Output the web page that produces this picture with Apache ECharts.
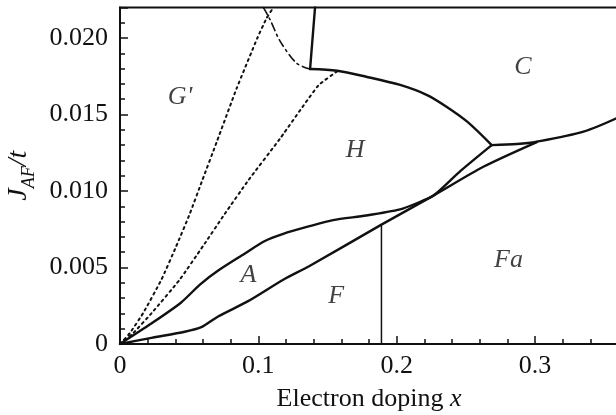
<!DOCTYPE html>
<html>
<head>
<meta charset="utf-8">
<script src="https://cdn.jsdelivr.net/npm/echarts@6/dist/echarts.min.js"></script>
<style>
  html, body { margin: 0; padding: 0; background: #fff; }
  #chart { width: 616px; height: 415px; }
</style>
</head>
<body>
<div id="chart"></div>
<script>
// phase boundaries, [x, J_AF/t] pairs
const dottedSteep = [[0, 0], [0.007, 0.0007], [0.0166, 0.002], [0.0299, 0.0042], [0.0407, 0.0064], [0.0504, 0.0085], [0.0595, 0.0107], [0.0699, 0.0132], [0.0843, 0.0167], [0.0993, 0.0200], [0.106, 0.0213], [0.1109, 0.022]];
const dottedShallow = [[0, 0], [0.0094, 0.0007], [0.0227, 0.002], [0.0431, 0.0042], [0.06, 0.0064], [0.0757, 0.0085], [0.0928, 0.0107], [0.1155, 0.0134], [0.1434, 0.0169], [0.1567, 0.0178]];
const dashDot = [[0.1036, 0.022], [0.1085, 0.0212], [0.1157, 0.0198], [0.1277, 0.01835], [0.1374, 0.01797]];
const hcVertical = [[0.1374, 0.01797], [0.141, 0.022]];
const hcBoundary = [[0.1374, 0.01797], [0.157, 0.01786], [0.178, 0.01747], [0.2025, 0.01693], [0.222, 0.01627], [0.236, 0.01551], [0.251, 0.01453], [0.2687, 0.0130]];
const cBoundary = [[0.2687, 0.0130], [0.287, 0.01307], [0.3013, 0.01322], [0.335, 0.01388], [0.36, 0.0148]];
const aUpper = [[0, 0], [0.022, 0.0013], [0.044, 0.0027], [0.058, 0.0039], [0.071, 0.0048], [0.09, 0.0059], [0.104, 0.0067], [0.118, 0.0072], [0.137, 0.0077], [0.154, 0.0081], [0.178, 0.0084], [0.2025, 0.0088], [0.2145, 0.0092], [0.2266, 0.0097], [0.246, 0.0113], [0.2687, 0.0130]];
const fLine = [[0, 0], [0.0227, 0.0004], [0.0468, 0.0008], [0.0588, 0.0011], [0.0709, 0.0018], [0.0926, 0.0028], [0.118, 0.0042], [0.137, 0.0051], [0.189, 0.0078], [0.2266, 0.0097], [0.263, 0.0116], [0.3013, 0.0132]];
const faVertical = [[0.189, 0], [0.189, 0.0078]];

// region names
const regionNames = ["G'", "H", "C", "A", "F", "Fa"];
const regionPos = [[0.0434, 0.0161], [0.17, 0.0127], [0.2912, 0.0181], [0.0928, 0.0045], [0.1562, 0.0031], [0.2808, 0.0055]];

const serif = 'Liberation Serif';
const ink = '#111';

let chart = echarts.init(document.getElementById('chart'));

function curve(data, width, type, smooth) {
    return {
        type: 'line',
        data: data,
        showSymbol: false,
        smooth: smooth,
        silent: true,
        lineStyle: { color: ink, width: width, type: type, cap: 'round' }
    };
}

let option = {
    backgroundColor: '#fff',
    animation: false,
    grid: {
        left: 120, right: -2, top: 7.4, bottom: 71,
        outerBoundsMode: 'none',
        containLabel: false,
        show: true, borderColor: ink, borderWidth: 2
    },
    xAxis: {
        type: 'value',
        min: 0, max: 0.36, interval: 0.1,
        splitLine: { show: false },
        axisLine: { lineStyle: { color: ink, width: 2 } },
        axisTick: { inside: true, length: 8, lineStyle: { color: ink, width: 1.5 } },
        minorTick: { show: true, splitNumber: 5, length: 5, lineStyle: { color: ink, width: 1.5 } },
        axisLabel: {
            margin: 9, color: ink, fontFamily: serif, fontSize: 26,
            showMaxLabel: false,
            formatter: v => v === 0 ? '0' : v.toFixed(1)
        },
        name: '{n|Electron doping }{i|x}',
        nameLocation: 'middle',
        nameGap: 42,
        nameTextStyle: {
            rich: {
                n: { fontFamily: serif, fontSize: 26, color: ink },
                i: { fontFamily: serif, fontSize: 26, color: ink, fontStyle: 'italic' }
            }
        }
    },
    yAxis: {
        type: 'value',
        min: 0, max: 0.022, interval: 0.005,
        splitLine: { show: false },
        axisLine: { lineStyle: { color: ink, width: 2 } },
        axisTick: { inside: true, length: 8, lineStyle: { color: ink, width: 1.5 } },
        minorTick: { show: true, splitNumber: 5, length: 5, lineStyle: { color: ink, width: 1.5 } },
        axisLabel: {
            margin: 12, color: ink, fontFamily: serif, fontSize: 26,
            showMaxLabel: false,
            formatter: v => v === 0 ? '0' : v.toFixed(3)
        },
        name: '{j|J}{s|AF}{j|/t}',
        nameLocation: 'middle',
        nameGap: 85,
        nameTextStyle: {
            rich: {
                j: { fontFamily: serif, fontSize: 28, color: ink, fontStyle: 'italic', lineHeight: 32 },
                s: { fontFamily: serif, fontSize: 18, color: ink, fontStyle: 'italic', verticalAlign: 'bottom', lineHeight: 18, padding: [0, 0, -4, 0] }
            }
        }
    },
    series: [
        curve(dottedSteep, 2, [2, 4], 0.15),
        curve(dottedShallow, 2, [2, 4], 0.15),
        curve(dashDot, 1.6, [8, 4, 2, 4], 0.3),
        curve(hcVertical, 2.4, 'solid', false),
        curve(hcBoundary, 2.4, 'solid', 0.3),
        curve(cBoundary, 2.4, 'solid', 0.3),
        curve(aUpper, 2.4, 'solid', 0.25),
        curve(fLine, 2.4, 'solid', 0.25),
        curve(faVertical, 1.5, 'solid', false),
        {
            type: 'scatter',
            symbolSize: 0,
            silent: true,
            data: regionPos.map((p, i) => ({ value: p, name: regionNames[i] })),
            label: {
                show: true,
                position: 'inside',
                formatter: p => p.name,
                fontFamily: serif,
                fontStyle: 'italic',
                fontSize: 26,
                color: ink
            }
        }
    ]
};
chart.setOption(option);

window.addEventListener('resize', () => {
    chart.resize();
});
</script>
</body>
</html>
